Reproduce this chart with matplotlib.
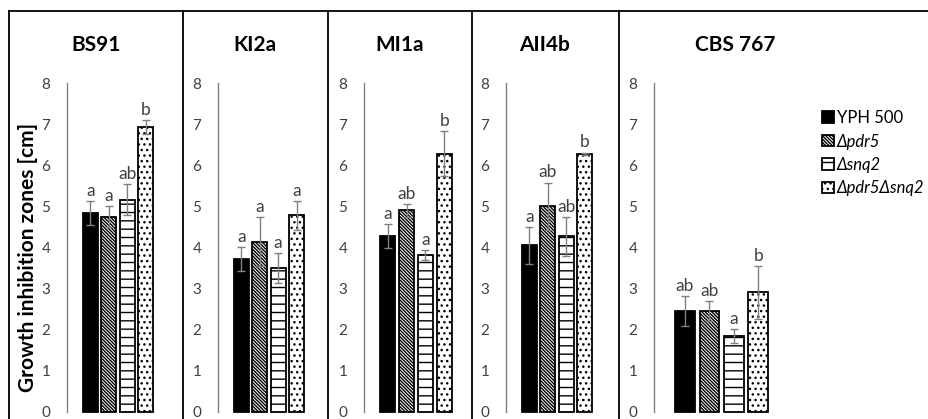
import numpy as np
import matplotlib
matplotlib.use("Agg")
import matplotlib.pyplot as plt
from matplotlib.lines import Line2D
from matplotlib.patches import Patch

plt.rcParams['font.family'] = ['Lato', 'DejaVu Sans']
plt.rcParams['hatch.linewidth'] = 1.0

######################################
strains = ['BS91', 'KI2a', 'MI1a', 'AII4b', 'CBS 767']
series_names = ['YPH 500', 'Δpdr5', 'Δsnq2', 'Δpdr5Δsnq2']

yph500 = [4.84, 3.72, 4.27, 4.05, 2.45]
yph500_err = [0.30, 0.28, 0.29, 0.45, 0.36]
pdr5 = [4.75, 4.14, 4.90, 5.00, 2.45]
pdr5_err = [0.25, 0.60, 0.15, 0.58, 0.24]
snq2 = [5.16, 3.50, 3.82, 4.27, 1.84]
snq2_err = [0.38, 0.37, 0.12, 0.48, 0.17]
pdr5snq2 = [6.93, 4.78, 6.28, 6.28, 2.91]
pdr5snq2_err = [0.17, 0.36, 0.55, 0.03, 0.65]

letters = [['a', 'a', 'ab', 'b'],
           ['a', 'a', 'a', 'a'],
           ['a', 'ab', 'a', 'b'],
           ['a', 'ab', 'ab', 'b'],
           ['ab', 'ab', 'a', 'b']]
yticks = [0, 1, 2, 3, 4, 5, 6, 7, 8]
######################################

W, H = 929, 419
fig = plt.figure(figsize=(W / 100, H / 100), dpi=100)

# pixel layout of each panel: axis line x, axes width
axis_x = [67, 218, 364, 506, 654]
axis_w = [92, 92, 94, 92, 122]
dividers = [9, 183, 328, 472, 619]
title_x = [96, 255, 400, 545, 735]

styles = [dict(color='black', edgecolor='black', hatch=None),
          dict(color='white', edgecolor='black', hatch='\\' * 10),
          dict(color='white', edgecolor='black', hatch='--'),
          dict(color='white', edgecolor='black', hatch='...')]

top_px = 83
ylow = -7 / 41.1
all_vals = [yph500, pdr5, snq2, pdr5snq2]
all_errs = [yph500_err, pdr5_err, snq2_err, pdr5snq2_err]

for i, s in enumerate(strains):
    ax = fig.add_axes([axis_x[i] / W, 0, axis_w[i] / W, (H - top_px) / H])
    x = np.arange(4)
    vals = [v[i] for v in all_vals]
    errs = [e[i] for e in all_errs]
    for j in range(4):
        ax.bar(x[j], vals[j], width=0.8, linewidth=1.3, **styles[j])
    ax.errorbar(x, vals, yerr=errs, fmt='none', ecolor='#808080',
                elinewidth=1, capsize=3, capthick=1)
    for j in range(4):
        ax.annotate(letters[i][j], (x[j], vals[j] + errs[j]),
                    xytext=(0, 1.5), textcoords='offset points',
                    ha='center', va='bottom', fontsize=12.5, color='#404040')
    ax.set_xlim(-1.27, 3.73)
    ax.set_ylim(ylow, 8)
    ax.set_yticks(yticks)
    ax.tick_params(axis='y', length=0, pad=12, labelsize=11, labelcolor='#404040')
    ax.set_xticks([])
    for sp in ['top', 'right', 'bottom']:
        ax.spines[sp].set_visible(False)
    ax.spines['left'].set_color('#808080')
    ax.spines['left'].set_linewidth(1)
    ax.spines['left'].set_bounds(0, 8)
    ax.patch.set_visible(False)

    fig.text(title_x[i] / W, 1 - 45 / H, s, ha='center', va='center',
             fontsize=15, fontweight='bold')

# frame lines
fig.add_artist(Line2D([dividers[0] / W, 1], [1 - 11 / H, 1 - 11 / H],
                      color='black', linewidth=1.3))
for d in dividers:
    fig.add_artist(Line2D([d / W, d / W], [0, 1 - 11 / H], color='black', linewidth=1.3))

fig.text(28 / W, 1 - 257 / H, 'Growth inhibition zones [cm]', rotation=90,
         ha='center', va='center', fontsize=15, fontweight='bold')

handles = [Patch(facecolor=st['color'], edgecolor='black', hatch=st['hatch'], linewidth=1.3)
           for st in styles]
leg = fig.legend(handles, series_names, loc='upper left',
                 bbox_to_anchor=(822 / W, 1 - 110 / H), frameon=False,
                 fontsize=12, handlelength=0.7, handleheight=0.7,
                 handletextpad=0.2, labelspacing=0.45, borderaxespad=0,
                 borderpad=0)
for t in leg.get_texts()[1:]:
    t.set_style('italic')

fig.savefig('out.png', dpi=100)
